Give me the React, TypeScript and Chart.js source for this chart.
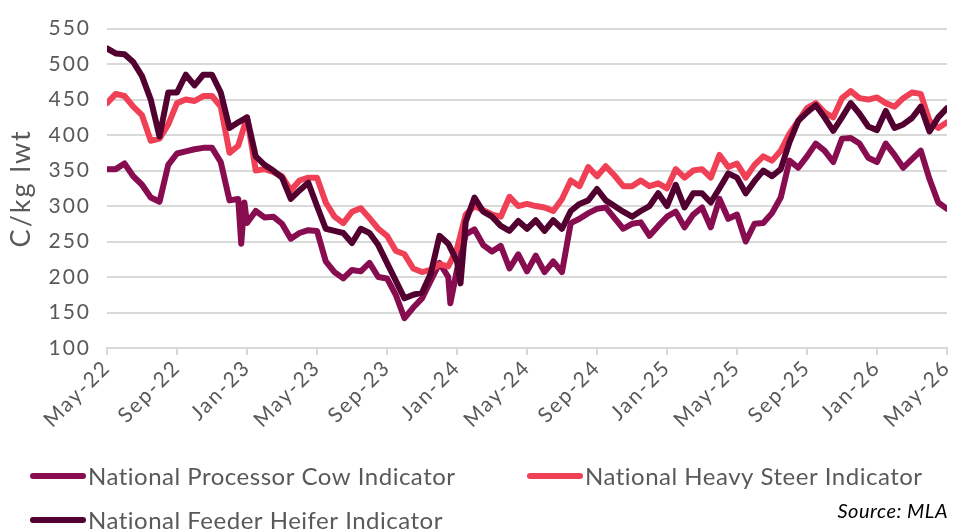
import React, { useEffect, useRef } from 'react';
import { Chart, registerables } from 'chart.js';

Chart.register(...registerables);

// X axis: months since May-22, one value every half month (0 .. 48)
const tickLabels = ['May-22', 'Sep-22', 'Jan-23', 'May-23', 'Sep-23', 'Jan-24', 'May-24', 'Sep-24', 'Jan-25', 'May-25', 'Sep-25', 'Jan-26', 'May-26'];

const seriesNames = ['National Processor Cow Indicator', 'National Heavy Steer Indicator', 'National Feeder Heifer Indicator'];

// c/kg lwt, half-monthly readings
const cowValues = [
  352, 352, 360, 342, 330, 312, 306, 358, 374, 377,
  380, 382, 382, 362, 308, 310, 276, 293, 284, 285,
  275, 254, 262, 266, 265, 222, 207, 198, 210, 208,
  220, 200, 198, 175, 142, 157, 170, 195, 220, 200,
  210, 260, 267, 245, 236, 244, 212, 232, 208, 230,
  207, 222, 207, 276, 282, 290, 296, 298, 283, 268,
  275, 277, 258, 272, 285, 292, 270, 288, 298, 270,
  310, 282, 288, 250, 275, 276, 290, 312, 364, 354,
  370, 388, 378, 362, 395, 396, 388, 368, 362, 388,
  372, 354, 366, 378, 338, 305, 296,
];

const steerValues = [
  445, 458, 455, 440, 428, 392, 395, 415, 445, 450,
  448, 455, 455, 440, 375, 385, 425, 350, 352, 348,
  342, 322, 336, 340, 340, 305, 285, 276, 292, 297,
  283, 268, 258, 237, 232, 212, 207, 210, 218, 215,
  240, 288, 300, 294, 288, 285, 313, 300, 303, 300,
  298, 293, 310, 336, 328, 355, 342, 356, 343, 328,
  328, 336, 328, 332, 325, 352, 340, 350, 352, 340,
  372, 355, 360, 340, 358, 370, 364, 378, 402, 420,
  438, 445, 432, 425, 452, 462, 452, 450, 453, 445,
  440, 452, 460, 458, 420, 410, 418,
];

const heiferValues = [
  522, 515, 514, 503, 483, 450, 398, 460, 460, 485,
  470, 485, 485, 460, 410, 418, 425, 370, 358, 350,
  340, 310, 322, 333, 300, 268, 265, 262, 248, 268,
  262, 245, 220, 195, 170, 175, 178, 205, 258, 247,
  222, 278, 312, 292, 285, 272, 265, 279, 268, 280,
  265, 280, 268, 293, 303, 308, 324, 308, 300, 292,
  285, 293, 300, 318, 300, 330, 298, 318, 318, 305,
  325, 346, 340, 318, 335, 350, 342, 352, 390, 420,
  432, 442, 425, 406, 425, 445, 430, 412, 407, 434,
  410, 415, 424, 440, 405, 425, 438,
];

// short-lived spikes between the half-month readings: [month, value]
const cowSpikes: [number, number][] = [[7.67, 247], [7.85, 305], [19.62, 163]];
const steerSpikes: [number, number][] = [];
const heiferSpikes: [number, number][] = [[20.2, 191]];

const COW = '#870c50';
const STEER = '#ef4056';
const HEIFER = '#51002f';
const TEXT = '#595959';
const GRID = '#d9d9d9';
const FONT = 'Lato, "Open Sans", sans-serif';

function toPoints(values: number[], spikes: [number, number][]) {
  const pts = values.map((v, i) => ({ x: i * 0.5, y: v }));
  spikes.forEach(([x, y]) => pts.push({ x, y }));
  pts.sort((a, b) => a.x - b.x);
  return pts;
}

function addSpacing(scale: any, labelSpacing: string, titleSpacing: string) {
  if (scale.__spaced) return;
  scale.__spaced = true;
  const dl = scale.drawLabels.bind(scale);
  const dt = scale.drawTitle.bind(scale);
  scale.drawLabels = (area: any) => {
    const ctx = scale.ctx;
    ctx.save();
    ctx.letterSpacing = labelSpacing;
    dl(area);
    ctx.restore();
  };
  scale.drawTitle = () => {
    const ctx = scale.ctx;
    ctx.save();
    ctx.letterSpacing = titleSpacing;
    dt();
    ctx.restore();
  };
}

const legendPlugin = {
  id: 'customLegend',
  afterDraw(chart: any) {
    const ctx = chart.ctx;
    ctx.save();
    const items = [
      { color: COW, label: seriesNames[0], x: 30, y: 476 },
      { color: STEER, label: seriesNames[1], x: 527, y: 476 },
      { color: HEIFER, label: seriesNames[2], x: 30, y: 520 },
    ];
    items.forEach((it) => {
      ctx.strokeStyle = it.color;
      ctx.lineWidth = 6;
      ctx.lineCap = 'round';
      ctx.beginPath();
      ctx.moveTo(it.x + 3, it.y);
      ctx.lineTo(it.x + 53, it.y);
      ctx.stroke();
      ctx.fillStyle = TEXT;
      ctx.font = `24px ${FONT}`;
      ctx.letterSpacing = '0.5px';
      ctx.textBaseline = 'middle';
      ctx.textAlign = 'left';
      ctx.fillText(it.label, it.x + 58, it.y + 1);
    });
    ctx.fillStyle = '#000000';
    ctx.font = `italic 20px ${FONT}`;
    ctx.letterSpacing = '0.5px';
    ctx.textAlign = 'right';
    ctx.textBaseline = 'middle';
    ctx.fillText('Source: MLA', 948, 512);
    ctx.restore();
  },
};

export default function App() {
  const canvasRef = useRef<HTMLCanvasElement | null>(null);

  useEffect(() => {
    if (!canvasRef.current) return;
    const lineBase = {
      borderWidth: 6,
      pointRadius: 0,
      tension: 0,
      fill: false,
      borderJoinStyle: 'round' as const,
      borderCapStyle: 'round' as const,
    };
    const chart = new Chart(canvasRef.current, {
      type: 'line',
      data: {
        datasets: [
          { ...lineBase, label: seriesNames[2], data: toPoints(heiferValues, heiferSpikes), borderColor: HEIFER, backgroundColor: HEIFER },
          { ...lineBase, label: seriesNames[1], data: toPoints(steerValues, steerSpikes), borderColor: STEER, backgroundColor: STEER },
          { ...lineBase, label: seriesNames[0], data: toPoints(cowValues, cowSpikes), borderColor: COW, backgroundColor: COW },
        ],
      },
      options: {
        responsive: false,
        animation: false,
        devicePixelRatio: 1,
        layout: { padding: { top: 25, right: 6, left: 0, bottom: 0 } },
        plugins: {
          legend: { display: false },
          tooltip: { enabled: false },
        },
        scales: {
          x: {
            type: 'linear',
            min: 0,
            max: 48,
            ticks: {
              stepSize: 4,
              autoSkip: false,
              maxRotation: 45,
              minRotation: 45,
              color: TEXT,
              font: { family: FONT, size: 21 },
              padding: 0,
              callback: (v: any) => tickLabels[Math.round(Number(v) / 4)] ?? '',
            },
            grid: { drawOnChartArea: false, drawTicks: true, tickLength: 7, color: GRID, lineWidth: 2 },
            border: { color: GRID, width: 2 },
            afterFit: (scale: any) => {
              scale.height = 182;
              scale.paddingLeft = 0;
              scale.paddingRight = 0;
              addSpacing(scale, '2px', '0px');
            },
          },
          y: {
            min: 100,
            max: 550,
            ticks: {
              stepSize: 50,
              color: TEXT,
              font: { family: FONT, size: 21 },
              padding: 16,
            },
            grid: { color: GRID, lineWidth: 2, drawTicks: false },
            border: { display: false },
            title: {
              display: true,
              text: 'C/kg lwt',
              color: TEXT,
              font: { family: FONT, size: 27 },
              padding: { top: 5, bottom: 0 },
            },
            afterFit: (scale: any) => {
              scale.width = 107;
              addSpacing(scale, '2px', '2px');
            },
          },
        },
      },
      plugins: [legendPlugin],
    });
    return () => chart.destroy();
  }, []);

  return (
    <div style={{ position: 'absolute', left: 0, top: 0, width: 953, height: 530, background: '#ffffff' }}>
      <canvas ref={canvasRef} width={953} height={530} style={{ display: 'block' }} />
    </div>
  );
}
